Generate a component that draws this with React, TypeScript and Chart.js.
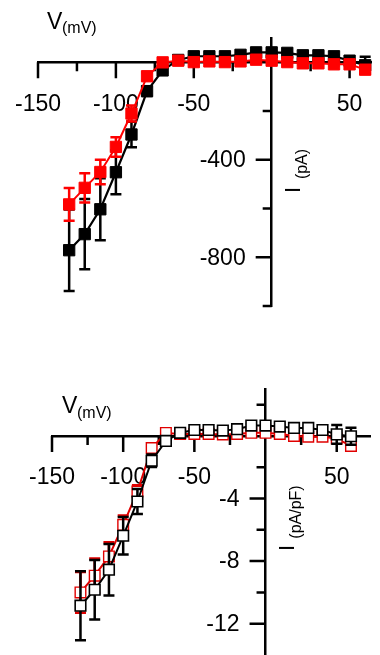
import React, { useEffect, useRef } from "react";
import { Chart, registerables } from "chart.js";

Chart.register(...registerables);

const FONT = "'Liberation Sans', Arial, Helvetica, sans-serif";

// Test potentials (mV)
const voltages = [-130, -120, -110, -100, -90, -80, -70, -60, -50, -40, -30, -20, -10, 0, 10, 20, 30, 40, 50, 60];

// Top panel: current I (pA)
const currentBlack = [-771, -705, -603, -451, -296, -118, -33, 10, 25, 25, 25, 31, 41, 41, 39, 29, 29, 25, 7, -12];
const currentBlackErr = [167, 144, 127, 90, 52, 20, 10, 5, 5, 5, 5, 5, 5, 5, 5, 5, 5, 5, 15, 35];
const currentRed = [-583, -515, -450, -347, -210, -57, 0, 7, 1, 4, 1, 4, 11, 7, 1, -4, -4, -8, -8, -30];
const currentRedErr = [67, 60, 50, 40, 33, 15, 5, 5, 5, 5, 5, 5, 5, 5, 5, 5, 5, 5, 8, 15];

// Bottom panel: current density I (pA/pF)
const densityBlack = [-10.85, -9.83, -8.55, -6.38, -4.19, -1.58, -0.32, 0.2, 0.38, 0.38, 0.34, 0.43, 0.66, 0.66, 0.6, 0.51, 0.51, 0.38, 0.1, -0.02];
const densityBlackErr = [2.2, 1.9, 1.65, 1.2, 0.8, 0.4, 0.2, 0.1, 0.1, 0.1, 0.1, 0.1, 0.1, 0.1, 0.1, 0.1, 0.1, 0.1, 0.6, 0.55];
const densityRed = [-10.0, -8.93, -7.7, -5.68, -3.55, -0.77, 0.19, 0.13, 0.13, 0.13, 0.1, 0.13, 0.2, 0.2, 0.13, 0.0, -0.05, -0.05, -0.17, -0.64];
const densityRedErr = [1.3, 1.1, 0.9, 0.6, 0.4, 0.2, 0.1, 0.05, 0.05, 0.05, 0.05, 0.05, 0.05, 0.05, 0.05, 0.05, 0.05, 0.05, 0.2, 0.3];

// Tick values
const voltageTicks = [-150, -100, -50, 50];
const voltageMinorTicks = [-125, -75, -25, 25];
const currentTicks = [-400, -800];
const currentMinorTicks = [-200, -600, -1000];
const densityTicks = [-4, -8, -12];
const densityMinorTicks = [2, -2, -6, -10];

type SeriesSpec = {
  values: number[];
  errors: number[];
  color: string;
  filled: boolean;
  radius: number;
  pointBorder: number;
  lineWidth: number;
};

type TitleSpec = {
  vx: number; vy: number; subX: number; subY: number;
  ix: number; iy: number; isx: number; isy: number;
  ySub: string;
};

type PanelSpec = {
  series: SeriesSpec[];
  xMax: number;
  yMin: number;
  yMax: number;
  yTicks: number[];
  yMinor: number[];
  padding: { left: number; right: number; top: number; bottom: number };
  title: TitleSpec;
};

function decor(p: PanelSpec) {
  return {
    id: "decor",
    beforeDatasetsDraw(chart: any) {
      const ctx = chart.ctx;
      const xs = chart.scales.x;
      const ys = chart.scales.y;
      const x0 = xs.getPixelForValue(0);
      const y0 = ys.getPixelForValue(0);
      ctx.save();
      ctx.strokeStyle = "#000";
      ctx.lineWidth = 2.5;
      ctx.beginPath();
      voltageTicks.forEach((v) => {
        const x = xs.getPixelForValue(v);
        ctx.moveTo(x, y0);
        ctx.lineTo(x, y0 + 16);
      });
      voltageMinorTicks.forEach((v) => {
        const x = xs.getPixelForValue(v);
        ctx.moveTo(x, y0);
        ctx.lineTo(x, y0 + 9);
      });
      p.yTicks.forEach((v) => {
        const y = ys.getPixelForValue(v);
        ctx.moveTo(x0 - 16, y);
        ctx.lineTo(x0, y);
      });
      p.yMinor.forEach((v) => {
        const y = ys.getPixelForValue(v);
        ctx.moveTo(x0 - 9, y);
        ctx.lineTo(x0, y);
      });
      ctx.stroke();

      // y tick labels, to the left of the centred y axis
      ctx.fillStyle = "#000";
      ctx.font = `23px ${FONT}`;
      ctx.textAlign = "right";
      ctx.textBaseline = "middle";
      p.yTicks.forEach((v) => {
        const y = ys.getPixelForValue(v);
        ctx.fillText(String(v), x0 - 26, y + 1);
      });
      ctx.restore();
    },
    beforeDatasetDraw(chart: any, args: any) {
      const ds = chart.data.datasets[args.index];
      const ctx = chart.ctx;
      const xs = chart.scales.x;
      const ys = chart.scales.y;
      const cap = 5.5;
      ctx.save();
      ctx.strokeStyle = ds.borderColor;
      ctx.lineWidth = 2.5;
      ctx.beginPath();
      ds.data.forEach((pt: any, i: number) => {
        const e = ds.errors[i];
        if (!e) return;
        const x = xs.getPixelForValue(pt.x);
        const y1 = ys.getPixelForValue(pt.y + e);
        const y2 = ys.getPixelForValue(pt.y - e);
        ctx.moveTo(x, y1);
        ctx.lineTo(x, y2);
        ctx.moveTo(x - cap, y1);
        ctx.lineTo(x + cap, y1);
        ctx.moveTo(x - cap, y2);
        ctx.lineTo(x + cap, y2);
      });
      ctx.stroke();
      ctx.restore();
    },
    afterDraw(chart: any) {
      const ctx = chart.ctx;
      const t = p.title;
      ctx.save();
      ctx.fillStyle = "#000";
      ctx.textBaseline = "alphabetic";
      ctx.textAlign = "left";
      ctx.font = `23px ${FONT}`;
      ctx.fillText("V", t.vx, t.vy);
      ctx.font = `16px ${FONT}`;
      ctx.fillText("(mV)", t.subX, t.subY);

      ctx.textAlign = "center";
      ctx.save();
      ctx.translate(t.ix, t.iy);
      ctx.rotate(-Math.PI / 2);
      ctx.font = `22px ${FONT}`;
      ctx.fillText("I", 0, 0);
      ctx.restore();
      ctx.save();
      ctx.translate(t.isx, t.isy);
      ctx.rotate(-Math.PI / 2);
      ctx.font = `16px ${FONT}`;
      ctx.fillText(t.ySub, 0, 0);
      ctx.restore();
      ctx.restore();
    },
  };
}

function buildConfig(p: PanelSpec): any {
  const tickFont = { family: FONT, size: 23 };
  return {
    type: "line",
    data: {
      datasets: p.series.map((s) => ({
        data: voltages.map((v, i) => ({ x: v, y: s.values[i] })),
        errors: s.errors,
        borderColor: s.color,
        backgroundColor: s.color,
        borderWidth: s.lineWidth,
        pointStyle: "rect",
        pointRadius: s.radius,
        pointBorderWidth: s.pointBorder,
        pointBorderColor: s.color,
        pointBackgroundColor: s.filled ? s.color : "#ffffff",
        tension: 0,
        fill: false,
        clip: false,
      })),
    },
    options: {
      responsive: false,
      animation: false,
      events: [],
      layout: { padding: p.padding },
      plugins: { legend: { display: false }, tooltip: { enabled: false } },
      scales: {
        x: {
          type: "linear",
          min: -150,
          max: p.xMax,
          position: { y: 0 },
          afterBuildTicks: (s: any) => {
            s.ticks = voltageTicks.map((v) => ({ value: v }));
          },
          ticks: {
            callback: (v: any) => String(v),
            font: tickFont,
            color: "#000",
            padding: 0,
            maxRotation: 0,
            autoSkip: false,
          },
          grid: {
            display: true,
            drawOnChartArea: false,
            drawTicks: true,
            tickLength: 28,
            tickColor: "rgba(0,0,0,0)",
          },
          border: { display: true, color: "#000", width: 2.5 },
        },
        y: {
          type: "linear",
          min: p.yMin,
          max: p.yMax,
          position: { x: 0 },
          afterBuildTicks: (s: any) => {
            s.ticks = p.yTicks.map((v) => ({ value: v }));
          },
          ticks: { display: false },
          grid: { display: false },
          border: { display: true, color: "#000", width: 2.5 },
        },
      },
    },
    plugins: [decor(p)],
  };
}

const topPanel: PanelSpec = {
  series: [
    { values: currentRed, errors: currentRedErr, color: "#ff0000", filled: true, radius: 8, pointBorder: 1, lineWidth: 2 },
    { values: currentBlack, errors: currentBlackErr, color: "#000000", filled: true, radius: 8, pointBorder: 1, lineWidth: 2.2 },
  ],
  xMax: 63.75,
  yMin: -1000,
  yMax: 100,
  yTicks: currentTicks,
  yMinor: currentMinorTicks,
  padding: { left: 38, right: 0, top: 38, bottom: 21 },
  title: { vx: 47, vy: 29, subX: 62, subY: 33, ix: 300, iy: 190, isx: 307, isy: 164, ySub: "(pA)" },
};

const bottomPanel: PanelSpec = {
  series: [
    { values: densityBlack, errors: densityBlackErr, color: "#000000", filled: false, radius: 7.5, pointBorder: 1.6, lineWidth: 2 },
    { values: densityRed, errors: densityRedErr, color: "#e00000", filled: false, radius: 7.5, pointBorder: 1.4, lineWidth: 2 },
  ],
  xMax: 74,
  yMin: -14,
  yMax: 3,
  yTicks: densityTicks,
  yMinor: densityMinorTicks,
  padding: { left: 52, right: 0, top: 62, bottom: 32 },
  title: { vx: 62, vy: 86, subX: 77, subY: 91, ix: 294, iy: 221, isx: 301, isy: 185, ySub: "(pA/pF)" },
};

function Panel({ spec, top, height }: { spec: PanelSpec; top: number; height: number }) {
  const ref = useRef<HTMLCanvasElement>(null);
  useEffect(() => {
    if (!ref.current) return;
    const chart = new Chart(ref.current, buildConfig(spec));
    return () => chart.destroy();
  }, [spec]);
  return (
    <canvas
      ref={ref}
      width={380}
      height={height}
      style={{ position: "absolute", left: 0, top, width: 380, height, display: "block" }}
    />
  );
}

export default function App() {
  return (
    <div
      style={{
        position: "absolute",
        left: 0,
        top: 0,
        width: 380,
        height: 655,
        overflow: "hidden",
        background: "#ffffff",
      }}
    >
      <Panel spec={topPanel} top={0} height={327} />
      <Panel spec={bottomPanel} top={327} height={360} />
    </div>
  );
}
